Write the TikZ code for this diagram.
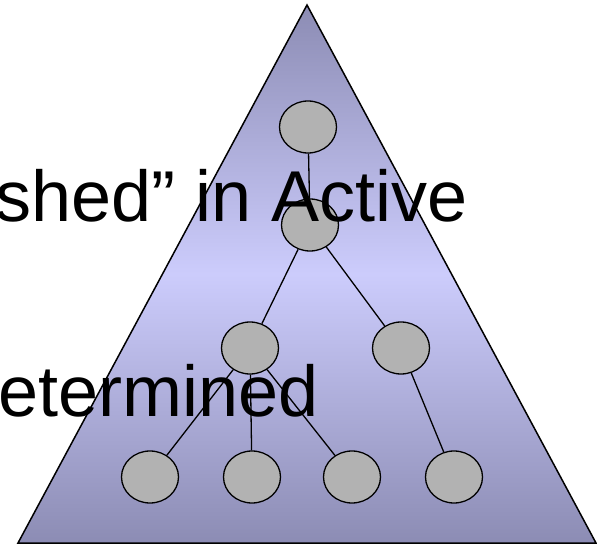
\documentclass[tikz,border=0pt]{standalone}
\usepackage{fontspec}
\setmainfont{Liberation Sans}
\usetikzlibrary{shapes,positioning,calc}
\definecolor{trilight}{RGB}{204,204,252}
\definecolor{tridark}{RGB}{140,140,180}
\definecolor{treegray}{RGB}{178,178,178}

\begin{document}
\begin{tikzpicture}[x=1pt,y=-1pt,
    treenode/.style={ellipse, draw, line width=1.3pt, fill=treegray, minimum width=57pt, minimum height=52pt, inner sep=0pt},
    treeedge/.style={line width=1.3pt},
    bigtext/.style={anchor=base east, inner sep=0pt, font=\fontsize{72}{86}\selectfont}]
    \useasboundingbox (0,0) rectangle (597,545);
    \clip (0,0) rectangle (597,545);

    % Triangle
    \path[draw, line width=1.5pt, top color=tridark, bottom color=tridark, middle color=trilight]
        (307,5) -- (596,543) -- (18,543) -- cycle;

    % Tree nodes
    \node[treenode] (root) at (308,127) {};
    \node[treenode] (mid) at (310,225) {};
    \node[treenode] (left) at (250,348) {};
    \node[treenode] (right) at (401,348) {};
    \foreach \name/\x in {la/150,lb/252,lc/352,ld/454} {
        \node[treenode] (\name) at (\x,477) {};
    }

    % Tree edges
    \draw[treeedge] (root) -- (mid);
    \draw[treeedge] (mid) -- (left);
    \draw[treeedge] (mid) -- (right);
    \foreach \leaf in {la,lb,lc} {
        \draw[treeedge] (left) -- (\leaf);
    }
    \draw[treeedge] (right) -- (ld);

    % Overflowing text
    \node[bigtext] (active) at (468,222) {shed” in Active};
    \node[bigtext] (determined) at (319,416) {etermined};
\end{tikzpicture}
\end{document}
